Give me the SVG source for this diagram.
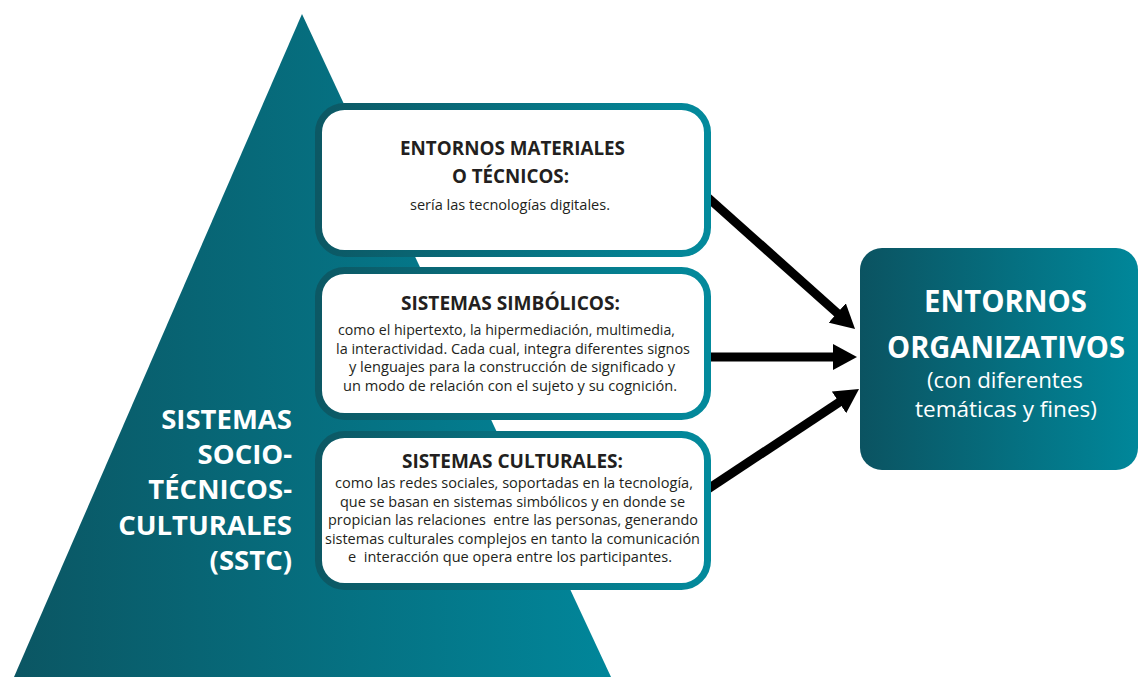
<svg xmlns="http://www.w3.org/2000/svg" width="1138" height="677" viewBox="0 0 1138 677">
<defs>
<linearGradient id="gTri" x1="14" y1="0" x2="611" y2="0" gradientUnits="userSpaceOnUse">
<stop offset="0" stop-color="#0b5663"/>
<stop offset="1" stop-color="#01869a"/>
</linearGradient>
<linearGradient id="gBox" x1="0" y1="0" x2="1" y2="0">
<stop offset="0" stop-color="#0c5864"/>
<stop offset="1" stop-color="#038a9c"/>
</linearGradient>
<linearGradient id="gOrg" x1="0" y1="0" x2="1" y2="0">
<stop offset="0" stop-color="#0b5361"/>
<stop offset="1" stop-color="#00879a"/>
</linearGradient>
<marker id="ah" markerUnits="userSpaceOnUse" viewBox="0 0 24 26" markerWidth="24" markerHeight="26" refX="12" refY="13" orient="auto">
<path d="M0,0 L24,13 L0,26 z" fill="#000"/>
</marker>
<style>
.box{fill:#fff;stroke:url(#gBox);stroke-width:7}
.hd{font-family:"Open Sans",sans-serif;font-weight:700;font-size:19px;fill:#231f20;text-anchor:middle}
.bd{font-family:"Open Sans",sans-serif;font-size:14px;fill:#231f20;text-anchor:middle;white-space:pre}
.big{font-family:"Open Sans",sans-serif;font-weight:700;font-size:27.5px;fill:#fff;text-anchor:end}
.orgh{font-family:"Open Sans",sans-serif;font-weight:700;font-size:30px;fill:#fff;text-anchor:middle}
.orgs{font-family:"Open Sans",sans-serif;font-size:21px;fill:#fff;text-anchor:middle}
.con{stroke:#000;stroke-width:9;fill:none;marker-end:url(#ah)}
</style>
</defs>
<g id="sstc">
<polygon points="302,14 14,677 611,677" fill="url(#gTri)"/>
<text class="big"><tspan x="292" y="429">SISTEMAS</tspan><tspan x="292" y="464">SOCIO-</tspan><tspan x="292" y="499">TÉCNICOS-</tspan><tspan x="292" y="535">CULTURALES</tspan><tspan x="292" y="570">(SSTC)</tspan></text>
</g>
<g id="connectors">
<line class="con" x1="705" y1="195" x2="846.1" y2="321"/>
<line class="con" x1="705" y1="357" x2="845" y2="357"/>
<line class="con" x1="705" y1="491" x2="849" y2="395.7"/>
</g>
<g id="materiales">
<rect class="box" x="318.5" y="106.5" width="389" height="147" rx="26"/>
<text class="hd" x="512.5" y="155" textLength="225" lengthAdjust="spacingAndGlyphs">ENTORNOS MATERIALES</text>
<text class="hd" x="510.5" y="183" textLength="117" lengthAdjust="spacingAndGlyphs">O TÉCNICOS:</text>
<text class="bd" x="510" y="210" textLength="200" lengthAdjust="spacingAndGlyphs">sería las tecnologías digitales.</text>
</g>
<g id="simbolicos">
<rect class="box" x="318.5" y="270.5" width="389" height="146" rx="26"/>
<text class="hd" x="510.5" y="310" textLength="219" lengthAdjust="spacingAndGlyphs">SISTEMAS SIMBÓLICOS:</text>
<text class="bd" x="506.5" y="335" textLength="337" lengthAdjust="spacingAndGlyphs">como el hipertexto, la hipermediación, multimedia,</text>
<text class="bd" x="513" y="353.5" textLength="354" lengthAdjust="spacingAndGlyphs">la interactividad. Cada cual, integra diferentes signos</text>
<text class="bd" x="512" y="372" textLength="326" lengthAdjust="spacingAndGlyphs">y lenguajes para la construcción de significado y</text>
<text class="bd" x="510" y="390.5" textLength="334" lengthAdjust="spacingAndGlyphs">un modo de relación con el sujeto y su cognición.</text>
</g>
<g id="culturales">
<rect class="box" x="318.5" y="434.5" width="389" height="152" rx="26"/>
<text class="hd" x="512.5" y="468" textLength="221" lengthAdjust="spacingAndGlyphs">SISTEMAS CULTURALES:</text>
<text class="bd" x="514" y="488" textLength="358" lengthAdjust="spacingAndGlyphs">como las redes sociales, soportadas en la tecnología,</text>
<text class="bd" x="512.5" y="507" textLength="345" lengthAdjust="spacingAndGlyphs">que se basan en sistemas simbólicos y en donde se</text>
<text class="bd" x="513" y="525" textLength="370" lengthAdjust="spacingAndGlyphs">propician las relaciones  entre las personas, generando</text>
<text class="bd" x="512.5" y="544" textLength="375" lengthAdjust="spacingAndGlyphs">sistemas culturales complejos en tanto la comunicación</text>
<text class="bd" x="510" y="562" textLength="324" lengthAdjust="spacingAndGlyphs">e  interacción que opera entre los participantes.</text>
</g>
<g id="organizativos">
<rect x="860" y="248" width="278" height="222" rx="22" fill="url(#gOrg)"/>
<text class="orgh" x="1005.5" y="312" textLength="163" lengthAdjust="spacingAndGlyphs">ENTORNOS</text>
<text class="orgh" x="1006" y="358" textLength="238" lengthAdjust="spacingAndGlyphs">ORGANIZATIVOS</text>
<text class="orgs" x="1005" y="388" textLength="156" lengthAdjust="spacingAndGlyphs">(con diferentes</text>
<text class="orgs" x="1006" y="417" textLength="182" lengthAdjust="spacingAndGlyphs">temáticas y fines)</text>
</g>
</svg>
